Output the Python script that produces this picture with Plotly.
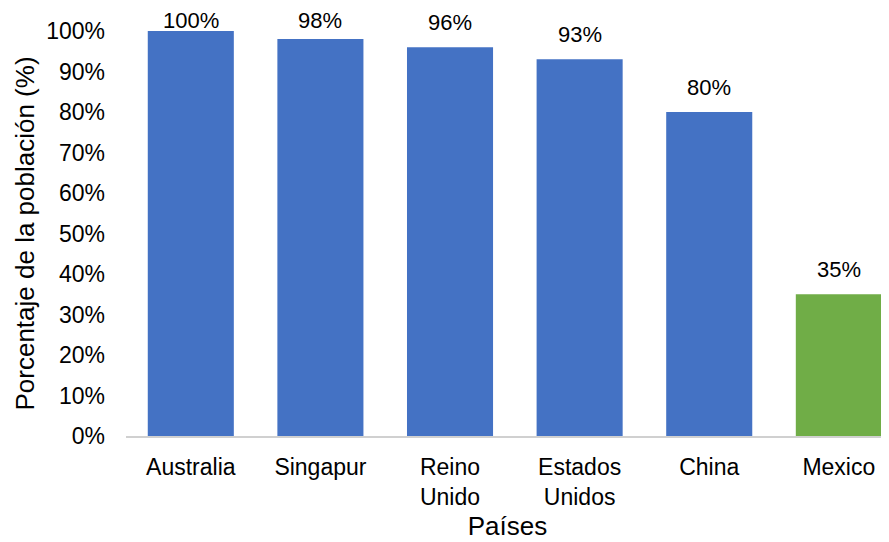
import plotly.graph_objects as go

categories = ["Australia", "Singapur", "Reino<br>Unido", "Estados<br>Unidos", "China", "Mexico"]
values = [1.00, 0.98, 0.96, 0.93, 0.80, 0.35]
labels = ["100%", "98%", "96%", "93%", "80%", "35%"]
colors = ["#4472C4", "#4472C4", "#4472C4", "#4472C4", "#4472C4", "#70AD47"]
y_ticks = [0, 0.1, 0.2, 0.3, 0.4, 0.5, 0.6, 0.7, 0.8, 0.9, 1.0]

# page body has an 8px default margin, so the figure is 8px smaller than the window
W, H = 881, 534
mt, mb, ml, mr = 23, 106, 118, 0
plot_h = H - mt - mb

font = "Liberation Sans, Arial, sans-serif"
tick_size = 23
label_size = 22
title_size = 26

fig = go.Figure()
fig.add_trace(go.Bar(
    x=list(range(len(categories))), y=values, marker=dict(color=colors, line=dict(width=0)),
    width=0.664, hoverinfo="skip", cliponaxis=False,
))

annotations = []
for i, (v, t) in enumerate(zip(values, labels)):
    top_px = mt + (1 - v) * plot_h
    center_px = max(top_px - 25, 12.5)
    annotations.append(dict(
        x=i, y=v, xref="x", yref="y", text=t, showarrow=False,
        yanchor="middle", yshift=top_px - center_px, borderpad=0, borderwidth=0,
        font=dict(family=font, size=label_size, color="#000000"),
    ))

fig.update_layout(
    width=W, height=H,
    margin=dict(t=mt, b=mb, l=ml, r=mr, pad=0, autoexpand=False),
    paper_bgcolor="white", plot_bgcolor="white",
    showlegend=False,
    annotations=annotations,
    font=dict(family=font, size=tick_size, color="#000000"),
    xaxis=dict(
        tickmode="array", tickvals=list(range(len(categories))), ticktext=categories,
        range=[-0.5, 5.387], showgrid=False, zeroline=False,
        showline=True, linecolor="#D0D0D0", linewidth=1.5,
        ticks="", ticklabelstandoff=10, automargin=False,
        tickfont=dict(family=font, size=tick_size, color="#000000"),
        title=dict(text="Países", font=dict(family=font, size=title_size, color="#000000"), standoff=8),
    ),
    yaxis=dict(
        range=[0, 1.0], tickvals=y_ticks, tickformat=".0%",
        showgrid=False, zeroline=False, showline=False, ticks="",
        ticklabelstandoff=20, automargin=False,
        tickfont=dict(family=font, size=tick_size, color="#000000"),
        title=dict(text="Porcentaje de la población (%)", font=dict(family=font, size=title_size, color="#000000"), standoff=4),
    ),
)

fig.write_html("out.html")
